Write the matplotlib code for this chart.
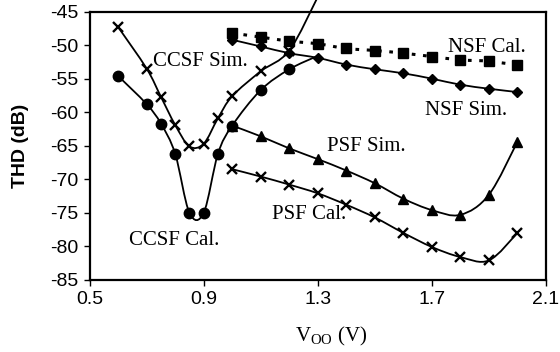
import numpy as np
import matplotlib
matplotlib.use('Agg')
import matplotlib.pyplot as plt
from matplotlib.path import Path
from matplotlib.patches import PathPatch

plt.rcParams['axes.unicode_minus'] = False

# data
x_ccsf = [0.6, 0.7, 0.75, 0.8, 0.85, 0.9, 0.95, 1.0, 1.1, 1.2, 1.3]
ccsf_sim = [-47.3, -53.5, -57.7, -61.9, -65.1, -64.7, -60.9, -57.6, -53.9, -50.8, -42.8]
ccsf_cal = [-54.6, -58.8, -61.7, -66.2, -75.0, -75.0, -66.2, -62.0, -56.7, -53.6, -51.6]

x_sf = [1.0, 1.1, 1.2, 1.3, 1.4, 1.5, 1.6, 1.7, 1.8, 1.9, 2.0]
nsf_sim = [-49.2, -50.2, -51.2, -51.9, -52.9, -53.6, -54.2, -55.0, -55.9, -56.5, -57.0]
nsf_cal = [-48.2, -48.8, -49.4, -49.8, -50.5, -50.8, -51.2, -51.7, -52.2, -52.4, -53.0]
psf_sim = [-62.0, -63.6, -65.4, -67.0, -68.7, -70.6, -72.9, -74.6, -75.3, -72.3, -64.4]
psf_cal = [-68.5, -69.6, -70.8, -72.1, -73.8, -75.7, -78.0, -80.1, -81.6, -82.1, -78.0]

labels = ['CCSF Sim.', 'CCSF Cal.', 'NSF Cal.', 'NSF Sim.', 'PSF Sim.', 'PSF Cal.']
label_pos = [(0.724, -52.5), (0.638, -79.2), (1.758, -50.4), (1.677, -59.75), (1.334, -65.1), (1.138, -75.3)]

serif = 'Liberation Serif'
sans = 'Liberation Sans'


def smooth_path(xs, ys):
    # excel style smoothed line as cubic bezier segments
    p = np.column_stack([xs, ys])
    n = len(p)
    verts = [p[0]]
    codes = [Path.MOVETO]
    for i in range(n - 1):
        p0 = p[i - 1] if i > 0 else p[i]
        p3 = p[i + 2] if i + 2 < n else p[i + 1]
        c1 = p[i] + (p[i + 1] - p0) / 6.0
        c2 = p[i + 1] - (p3 - p[i]) / 6.0
        verts += [c1, c2, p[i + 1]]
        codes += [Path.CURVE4] * 3
    return Path(verts, codes)


fig = plt.figure(figsize=(5.6, 3.52), dpi=100)
ax = fig.add_axes([0.16, 0.205, 0.815, 0.762])

def add_curve(xs, ys, ls='-', lw=1.3, clip=True):
    patch = PathPatch(smooth_path(xs, ys), facecolor='none', edgecolor='black',
                      linewidth=lw, linestyle=ls, clip_on=clip)
    ax.add_patch(patch)

add_curve(x_ccsf, ccsf_sim, clip=False)
add_curve(x_ccsf, ccsf_cal)
add_curve(x_sf, nsf_sim)
add_curve(x_sf, nsf_cal, ls=(0, (1.2, 2.5)), lw=2.2)
add_curve(x_sf, psf_sim)
add_curve(x_sf, psf_cal)

ax.plot(x_ccsf[:-1], ccsf_sim[:-1], 'x', color='black', ms=7, mew=1.7)
ax.plot(x_ccsf[:-1], ccsf_cal[:-1], 'o', color='black', ms=7.5)
ax.plot(x_sf, nsf_sim, 'D', color='black', ms=5.5)
ax.plot(x_sf, nsf_cal, 's', color='black', ms=7)
ax.plot(x_sf, psf_sim, '^', color='black', ms=7.5)
ax.plot(x_sf, psf_cal, 'x', color='black', ms=7, mew=1.7)

for txt, (tx, ty) in zip(labels, label_pos):
    ax.text(tx, ty, txt, fontsize=15, family=serif, ha='left', va='center')

ax.set_xlim(0.5, 2.1)
ax.set_ylim(-85, -45)
ax.set_xticks([0.5, 0.9, 1.3, 1.7, 2.1])
ax.set_xticklabels(['0.5', '0.9', '1.3', '1.7', '2.1'])
ax.set_yticks(np.arange(-85, -44, 5))
for lab in ax.get_xticklabels() + ax.get_yticklabels():
    lab.set_family(sans)
    lab.set_fontsize(14)
ax.tick_params(direction='out', length=4, width=1, pad=4)
for s in ax.spines.values():
    s.set_linewidth(1.6)

ax.set_ylabel('THD (dB)', fontsize=14, fontweight='bold', family=sans, labelpad=15)
ax.set_xlabel(r'V$_{\mathregular{OO}}$ (V)', fontsize=15, family=serif)
ax.xaxis.set_label_coords(0.53, -0.17)

fig.savefig('out.png', dpi=100)
